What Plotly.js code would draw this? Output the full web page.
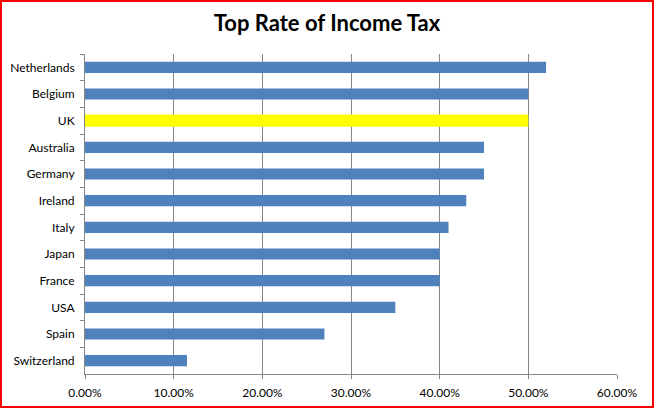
<!DOCTYPE html>
<html>
<head>
<meta charset="utf-8">
<script src="https://cdn.plot.ly/plotly-3.0.1.min.js"></script>
<style>
  html, body { margin: 0; padding: 0; background: #fff; }
  #chart { width: 654px; height: 408px; box-sizing: border-box; border: 2px solid #ff0000; }
</style>
</head>
<body>
<div id="chart"></div>
<script>
// Datos (de arriba a abajo)
const countries = ['Netherlands', 'Belgium', 'UK', 'Australia', 'Germany', 'Ireland',
  'Italy', 'Japan', 'France', 'USA', 'Spain', 'Switzerland'];
const topRates = [0.52, 0.50, 0.50, 0.45, 0.45, 0.43, 0.41, 0.40, 0.40, 0.35, 0.27, 0.115];
const highlight = 'UK';

const BLUE = '#4f81bd';
const YELLOW = '#ffff00';
const GRID = '#868686';

const trace = {
  type: 'bar',
  orientation: 'h',
  x: topRates,
  y: countries,
  width: countries.map(c => c === highlight ? 0.46 : 0.42),
  marker: { color: countries.map(c => c === highlight ? YELLOW : BLUE) },
  hoverinfo: 'skip'
};

const layout = {
  width: 650, height: 404,
  margin: { l: 83, r: 35, t: 52, b: 32 },
  paper_bgcolor: '#fff', plot_bgcolor: '#fff',
  font: { family: 'Lato, "DejaVu Sans", sans-serif', size: 12, color: '#000' },
  title: {
    text: '<b>Top Rate of Income Tax</b>',
    font: { family: 'Lato, sans-serif', size: 22, color: '#000' },
    x: 0.5, xanchor: 'center',
    y: 1 - 21 / 404, yref: 'container', yanchor: 'middle'
  },
  showlegend: false,
  xaxis: {
    range: [0, 0.6], dtick: 0.1, tickformat: '.2%',
    showgrid: true, gridcolor: GRID, gridwidth: 1,
    zeroline: false,
    showline: true, linecolor: GRID, linewidth: 1,
    ticks: 'outside', ticklen: 4, tickcolor: GRID,
    ticklabelstandoff: 4,
    fixedrange: true
  },
  yaxis: {
    type: 'category', autorange: 'reversed',
    tickson: 'boundaries',
    showgrid: false, zeroline: false,
    showline: true, linecolor: GRID, linewidth: 1,
    ticks: 'outside', ticklen: 4, tickcolor: GRID,
    ticklabelstandoff: 7,
    fixedrange: true
  }
};

Plotly.newPlot('chart', [trace], layout, { displayModeBar: false, staticPlot: true });
</script>
</body>
</html>
